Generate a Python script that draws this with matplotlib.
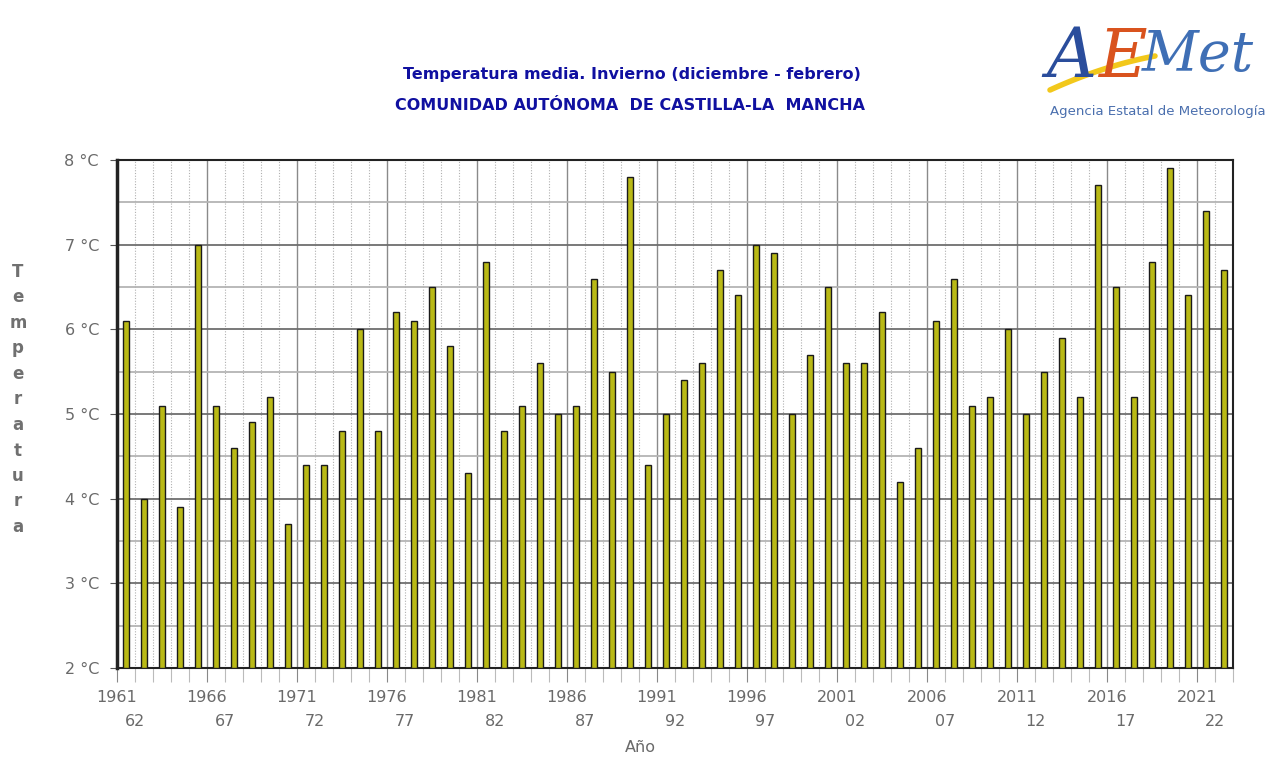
import numpy as np
import matplotlib
matplotlib.use('Agg')
import matplotlib.pyplot as plt
from matplotlib.ticker import MultipleLocator, FixedLocator

# winters 1961-62 ... 2022-23
years = list(range(1961, 2023))
temps = [6.1, 4.0, 5.1, 3.9, 7.0, 5.1, 4.6, 4.9, 5.2, 3.7,
         4.4, 4.4, 4.8, 6.0, 4.8, 6.2, 6.1, 6.5, 5.8, 4.3,
         6.8, 4.8, 5.1, 5.6, 5.0, 5.1, 6.6, 5.5, 7.8, 4.4,
         5.0, 5.4, 5.6, 6.7, 6.4, 7.0, 6.9, 5.0, 5.7, 6.5,
         5.6, 5.6, 6.2, 4.2, 4.6, 6.1, 6.6, 5.1, 5.2, 6.0,
         5.0, 5.5, 5.9, 5.2, 7.7, 6.5, 5.2, 6.8, 7.9, 6.4,
         7.4, 6.7]
label_years = years[::5]
y_ticks = [2, 3, 4, 5, 6, 7, 8]

TITLE_COL = '#1010a0'
TXT_COL = '#6a6a6a'
BAR_COL = '#b9b916'

fig = plt.figure(figsize=(12.78, 7.57), dpi=100)
ax = fig.add_axes([117/1278, 1 - 668/757, (1233-117)/1278, (668-160)/757])

n = len(years)
x = np.arange(n) + 0.5
ax.bar(x, np.array(temps) - 2, bottom=2, width=0.36, color=BAR_COL,
       edgecolor='#1a1a1a', linewidth=1.0, zorder=3)

ax.set_xlim(0, n)
ax.set_ylim(2, 8)

# grid: solid every 5 years / every degree, dotted each year, light every half degree
ax.xaxis.set_major_locator(FixedLocator([years.index(y) for y in label_years]))
ax.xaxis.set_minor_locator(MultipleLocator(1))
ax.yaxis.set_major_locator(FixedLocator(y_ticks))
ax.yaxis.set_minor_locator(MultipleLocator(0.5))
ax.grid(which='major', axis='x', color='#8a8a8a', linewidth=1.0, zorder=0)
ax.grid(which='minor', axis='x', color='#b0b0b0', linewidth=0.8, linestyle=(0, (1, 1.5)), zorder=0)
ax.grid(which='major', axis='y', color='#6e6e6e', linewidth=1.3, zorder=0)
ax.grid(which='minor', axis='y', color='#b4b4b4', linewidth=1.3, zorder=0)

ax.set_xticklabels([str(y) for y in label_years])
ax.set_yticklabels([f'{v} °C' for v in y_ticks])
ax.tick_params(axis='x', which='major', length=10, color='#888888', labelsize=11.5,
               labelcolor=TXT_COL, pad=6)
ax.tick_params(axis='x', which='minor', length=10, color='#bbbbbb', width=0.8)
ax.tick_params(axis='y', which='major', length=5, color='#555555', labelsize=11.5,
               labelcolor=TXT_COL, pad=8)
ax.tick_params(axis='y', which='minor', length=0)

# second row of labels: following year (two digits) at next slot boundary
for yv in label_years:
    i = years.index(yv)
    ax.text(i + 1, -0.106, f'{(yv + 1) % 100:02d}', transform=ax.get_xaxis_transform(),
            ha='center', va='center', fontsize=11.5, color=TXT_COL)

for s in ax.spines.values():
    s.set_color('#222222')
    s.set_linewidth(1.5)
ax.spines['left'].set_linewidth(2.5)

fig.text(640/1278, 1 - 748/757, 'Año', ha='center', va='center',
         fontsize=11.5, color=TXT_COL)

# vertical stacked y label
ylab = 'Temperatura'
for k, ch in enumerate(ylab):
    fig.text(18/1278, 1 - (272 + k*25.5)/757, ch, ha='center', va='center',
             fontsize=12, fontweight='bold', color='#707070')

fig.text(632/1278, 1 - 75/757, 'Temperatura media. Invierno (diciembre - febrero)',
         ha='center', va='center', fontsize=11.5, fontweight='bold', color=TITLE_COL)
fig.text(630/1278, 1 - 106/757, 'COMUNIDAD AUTÓNOMA  DE CASTILLA-LA  MANCHA',
         ha='center', va='center', fontsize=11.5, fontweight='bold', color=TITLE_COL)

# AEMet logo (approximation)
t = np.linspace(0, 1, 50)
fig.add_artist(plt.Line2D((1050 + 105*t)/1278, 1 - (90 - 48*t + 14*t**2)/757,
                          color='#f2c81b', linewidth=4, solid_capstyle='round'))
fig.text(1046/1278, 1 - 58/757, 'A', fontsize=50, color='#2a4d9c', style='italic',
         ha='left', va='center', family='DejaVu Serif')
fig.text(1098/1278, 1 - 58/757, 'E', fontsize=48, color='#d9531e', style='italic',
         ha='left', va='center', family='DejaVu Serif')
fig.text(1142/1278, 1 - 56/757, 'Met', fontsize=40, color='#3f6fb5', style='italic',
         ha='left', va='center', family='DejaVu Serif')
fig.text(1158/1278, 1 - 111/757, 'Agencia Estatal de Meteorología', fontsize=9.5,
         color='#4a6fae', ha='center', va='center')

fig.savefig('out.png', dpi=100)
